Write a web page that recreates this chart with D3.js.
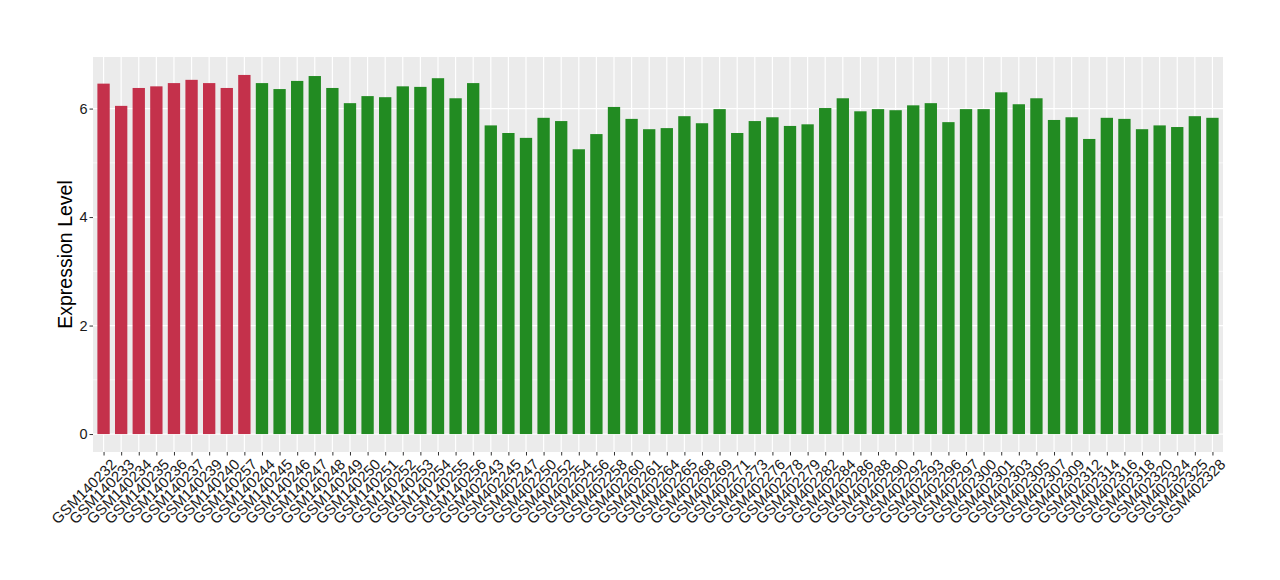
<!DOCTYPE html>
<html>
<head>
<meta charset="utf-8">
<script src="https://cdn.jsdelivr.net/npm/d3@7"></script>
<style>
  body { margin: 0; background: #fff; }
  text { font-family: "Liberation Sans", Arial, sans-serif; }
</style>
</head>
<body>
<div id="chart"></div>
<script>
// samples, in plot order
var samples = [
  "GSM140232", "GSM140233", "GSM140234", "GSM140235", "GSM140236", "GSM140237", "GSM140239", "GSM140240", "GSM140257",
  "GSM140244", "GSM140245", "GSM140246", "GSM140247", "GSM140248", "GSM140249", "GSM140250", "GSM140251", "GSM140252",
  "GSM140253", "GSM140254", "GSM140255", "GSM140256",
  "GSM402243", "GSM402245", "GSM402247", "GSM402250", "GSM402252", "GSM402254", "GSM402256", "GSM402258", "GSM402260",
  "GSM402261", "GSM402264", "GSM402265", "GSM402268", "GSM402269", "GSM402271", "GSM402273", "GSM402276", "GSM402278",
  "GSM402279", "GSM402282", "GSM402284", "GSM402286", "GSM402288", "GSM402290", "GSM402292", "GSM402293", "GSM402296",
  "GSM402297", "GSM402300", "GSM402301", "GSM402303", "GSM402305", "GSM402307", "GSM402309", "GSM402312", "GSM402314",
  "GSM402316", "GSM402318", "GSM402320", "GSM402324", "GSM402325", "GSM402328"
];

var values = [
  6.46, 6.05, 6.38, 6.41, 6.47, 6.53, 6.47, 6.38, 6.62,
  6.47, 6.36, 6.51, 6.60, 6.38, 6.10, 6.23, 6.21, 6.41,
  6.40, 6.56, 6.19, 6.47,
  5.69, 5.55, 5.46, 5.83, 5.77, 5.25, 5.53, 6.03, 5.81,
  5.62, 5.64, 5.86, 5.73, 5.99, 5.55, 5.77, 5.84, 5.68,
  5.71, 6.01, 6.19, 5.95, 5.99, 5.97, 6.06, 6.10, 5.75,
  5.99, 5.99, 6.30, 6.08, 6.19, 5.79, 5.84, 5.44, 5.83,
  5.81, 5.62, 5.69, 5.66, 5.86, 5.83
];

// group of each sample (first 9 are the first group)
var groups = samples.map((s, i) => i < 9 ? "A" : "B");
var groupColors = { A: "#C4314B", B: "#228B22" };

var yTicks = [0, 2, 4, 6];
var yMinor = [1, 3, 5];

var width = 1280;
var height = 580;
var margin = { top: 57, right: 57, bottom: 128, left: 93 };
var pw = width - margin.left - margin.right;
var ph = height - margin.top - margin.bottom;

var svg = d3.select("#chart").append("svg")
    .attr("width", width)
    .attr("height", height);

var g = svg.append("g")
    .attr("transform", "translate(" + margin.left + "," + margin.top + ")");

// ggplot-like expansion: 0.6 units each side of the discrete axis
var n = samples.length;
var unit = pw / (n - 1 + 1.2);
var x = d3.scalePoint()
    .domain(samples)
    .range([0.6 * unit, pw - 0.6 * unit]);

var yMax = d3.max(values);
var y = d3.scaleLinear()
    .domain([-0.05 * yMax, yMax * 1.05])
    .range([ph, 0]);

// panel background
g.append("rect")
    .attr("width", pw)
    .attr("height", ph)
    .attr("fill", "#EBEBEB");

// minor grid
g.selectAll(".minor")
    .data(yMinor)
    .enter().append("line")
    .attr("x1", 0).attr("x2", pw)
    .attr("y1", d => y(d)).attr("y2", d => y(d))
    .attr("stroke", "#fff")
    .attr("stroke-width", 0.6);

// major grid
g.selectAll(".major")
    .data(yTicks)
    .enter().append("line")
    .attr("x1", 0).attr("x2", pw)
    .attr("y1", d => y(d)).attr("y2", d => y(d))
    .attr("stroke", "#fff")
    .attr("stroke-width", 1.2);

g.selectAll(".vgrid")
    .data(samples)
    .enter().append("line")
    .attr("x1", d => x(d)).attr("x2", d => x(d))
    .attr("y1", 0).attr("y2", ph)
    .attr("stroke", "#fff")
    .attr("stroke-width", 1.2);

// bars
var bw = unit * 0.7;
g.selectAll(".bar")
    .data(samples)
    .enter().append("rect")
    .attr("class", "bar")
    .attr("x", d => x(d) - bw / 2)
    .attr("width", bw)
    .attr("y", (d, i) => y(values[i]))
    .attr("height", (d, i) => y(0) - y(values[i]))
    .attr("fill", (d, i) => groupColors[groups[i]]);

// y axis
var yAxis = g.append("g")
    .call(d3.axisLeft(y).tickValues(yTicks).tickSize(3.5).tickPadding(2));
yAxis.select(".domain").remove();
yAxis.selectAll(".tick line").attr("stroke", "#333").attr("stroke-width", 1);
yAxis.selectAll(".tick text")
    .attr("fill", "#1a1a1a")
    .style("font-size", "14.5px");

// x axis
var xAxis = g.append("g")
    .attr("transform", "translate(0," + ph + ")")
    .call(d3.axisBottom(x).tickSize(3.5).tickPadding(2));
xAxis.select(".domain").remove();
xAxis.selectAll(".tick line").attr("stroke", "#333").attr("stroke-width", 1);
xAxis.selectAll(".tick text")
    .attr("fill", "#1a1a1a")
    .style("font-size", "15px")
    .attr("text-anchor", "end")
    .attr("dy", "0.8em")
    .attr("transform", "translate(1,1) rotate(-45)");

// y title
svg.append("text")
    .attr("transform", "translate(72," + (margin.top + ph / 2) + ") rotate(-90)")
    .attr("text-anchor", "middle")
    .style("font-size", "19.5px")
    .attr("fill", "#000")
    .text("Expression Level");
</script>
</body>
</html>
